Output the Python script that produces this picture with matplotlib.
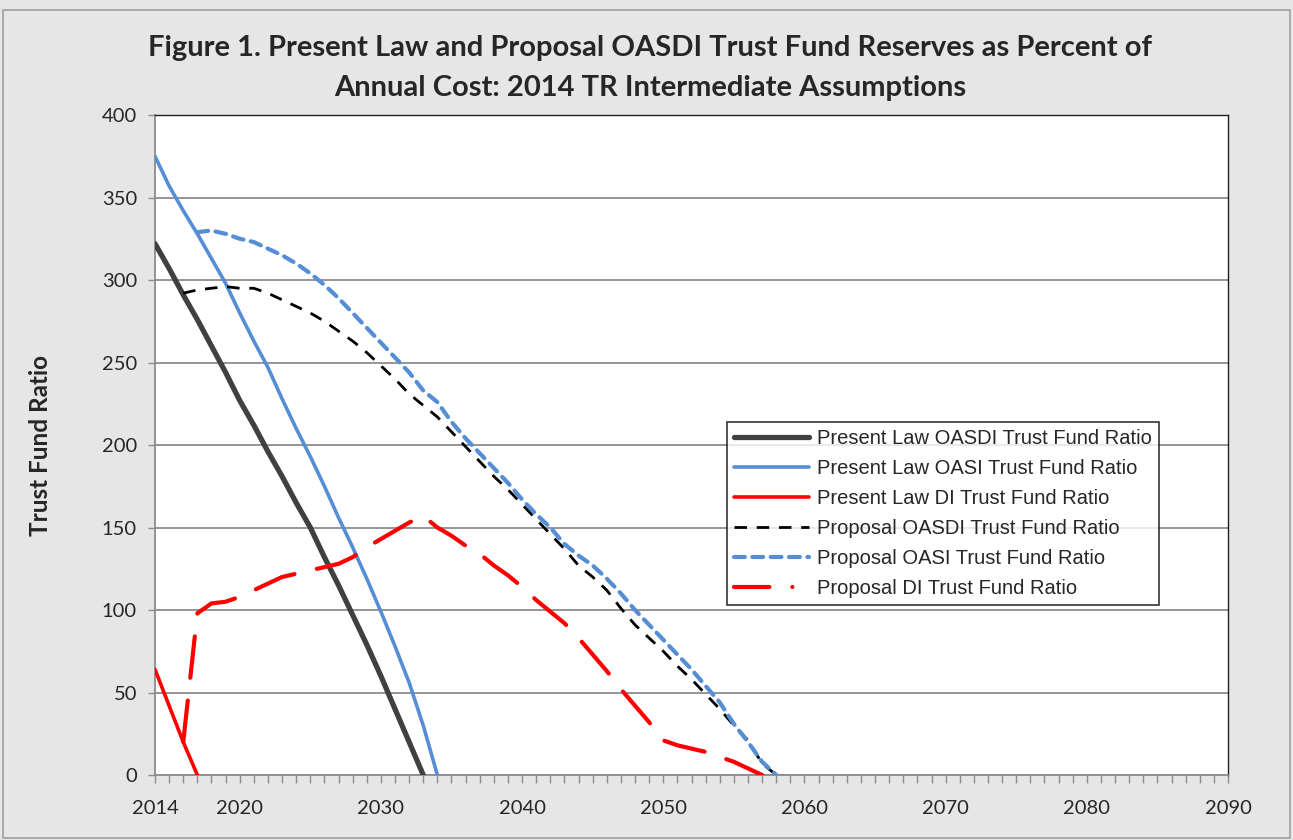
import matplotlib
matplotlib.use("Agg")
import matplotlib.pyplot as plt
from matplotlib.patches import Rectangle
from matplotlib.lines import Line2D

# --- data (trust fund ratio, percent) ---
pl_oasdi_years = list(range(2014, 2034))
pl_oasdi = [322, 307, 291, 276, 260, 244, 227, 212, 196, 181,
            165, 150, 132, 115, 97, 79, 60, 40, 20, 0]

pl_oasi_years = list(range(2014, 2035))
pl_oasi = [375, 357, 342, 328, 313, 298, 280, 263, 247, 228,
           210, 193, 175, 156, 138, 119, 99, 78, 56, 30, 0]

pl_di_years = [2014, 2015, 2016, 2017]
pl_di = [64, 42, 20, 0]

pr_oasdi_years = list(range(2016, 2059))
pr_oasdi = [292, 294, 295, 296, 295, 295, 292, 288, 284, 280,
            275, 269, 263, 256, 248, 240, 231, 224, 217, 208,
            199, 190, 181, 173, 164, 155, 146, 137, 127, 120,
            112, 101, 91, 83, 75, 66, 58, 49, 40, 30,
            21, 7, 0]

pr_oasi_years = list(range(2017, 2059))
pr_oasi = [329, 330, 328, 325, 323, 319, 315, 310, 304, 297,
           289, 280, 271, 262, 253, 244, 233, 226, 214, 204,
           195, 186, 177, 167, 158, 150, 140, 133, 127, 119,
           110, 100, 91, 82, 73, 64, 54, 44, 31, 20,
           8, 0]

pr_di_years = list(range(2016, 2058))
pr_di = [20, 98, 104, 105, 108, 112, 116, 120, 122, 124,
         126, 128, 132, 138, 143, 148, 153, 157, 150, 145,
         139, 134, 127, 121, 114, 106, 99, 92, 83, 73,
         63, 52, 42, 32, 21, 18, 16, 14, 11, 8,
         4, 0]

labels = ["Present Law OASDI Trust Fund Ratio",
          "Present Law OASI Trust Fund Ratio",
          "Present Law DI Trust Fund Ratio",
          "Proposal OASDI Trust Fund Ratio",
          "Proposal OASI Trust Fund Ratio",
          "Proposal DI Trust Fund Ratio"]

x_ticks = [2014, 2020, 2030, 2040, 2050, 2060, 2070, 2080, 2090]
y_ticks = list(range(0, 401, 50))

gray_line = "#404040"
blue = "#558ED5"
red = "#FF0000"
grid_col = "#8C8C8C"
text_col = "#262626"

fig = plt.figure(figsize=(12.93, 8.4), dpi=100)
fig.patch.set_facecolor("#E6E6E6")
fig.patches.append(Rectangle((0.002, 0.002), 0.996, 0.986, transform=fig.transFigure,
                             fill=False, edgecolor="#A0A0A0", linewidth=1.2))

ax = fig.add_axes([155 / 1293, 1 - 775 / 840, (1228 - 155) / 1293, (775 - 115) / 840])
ax.set_facecolor("white")

h1, = ax.plot(pl_oasdi_years, pl_oasdi, color=gray_line, lw=3.8, solid_capstyle="round",
              zorder=3)
h2, = ax.plot(pl_oasi_years, pl_oasi, color=blue, lw=2.6, solid_capstyle="round", zorder=3)
h3, = ax.plot(pl_di_years, pl_di, color=red, lw=2.6, solid_capstyle="round", zorder=3)
h4, = ax.plot(pr_oasdi_years, pr_oasdi, color="black", lw=2.0, dashes=(4.5, 3.5), zorder=4)
h5, = ax.plot(pr_oasi_years, pr_oasi, color=blue, lw=3.0, dashes=(2.6, 1.8),
              dash_capstyle="round", zorder=4)
ax.plot(pr_di_years, pr_di, color=red, lw=3.0, dashes=(10, 5.5),
        dash_capstyle="round", zorder=4)
# legend swatch for the DI proposal shows long dash + dot
h6 = Line2D([], [], color=red, lw=3.0, dashes=(8.5, 5.5, 0.01, 5),
            dash_capstyle="round")

ax.set_xlim(2014, 2090)
ax.set_ylim(0, 400)
ax.set_xticks(x_ticks)
ax.set_xticks(range(2014, 2091), minor=True)
ax.set_yticks(y_ticks)
ax.yaxis.grid(True, color=grid_col, lw=1.3)
ax.set_axisbelow(True)

for side in ["top", "right"]:
    ax.spines[side].set_color("#202020")
    ax.spines[side].set_linewidth(1.0)
for side in ["left", "bottom"]:
    ax.spines[side].set_color(grid_col)
    ax.spines[side].set_linewidth(1.3)

ax.tick_params(axis="x", which="both", direction="out", length=6, width=1, color=grid_col,
               pad=12)
ax.tick_params(axis="y", direction="out", length=5, width=1, color=grid_col, pad=8)
for lab in ax.get_xticklabels() + ax.get_yticklabels():
    lab.set_fontfamily("Lato")
    lab.set_fontsize(14.5)
    lab.set_color(text_col)

ax.set_ylabel("Trust Fund Ratio", fontfamily="Lato", fontweight="bold", fontsize=17.5,
              color=text_col, labelpad=36)

fig.text(0.503, 0.943, "Figure 1. Present Law and Proposal OASDI Trust Fund Reserves as Percent of",
         ha="center", va="center", fontfamily="Lato", fontweight="bold", fontsize=21,
         color=text_col)
fig.text(0.503, 0.895, "Annual Cost: 2014 TR Intermediate Assumptions",
         ha="center", va="center", fontfamily="Lato", fontweight="bold", fontsize=21,
         color=text_col)

leg = ax.legend([h1, h2, h3, h4, h5, h6], labels,
                loc="upper left", bbox_to_anchor=((727 - 155) / 1073, (775 - 422) / 660),
                prop={"family": "Liberation Sans", "size": 14.5}, frameon=True,
                fancybox=False, edgecolor="black", handlelength=3.7, handletextpad=0.4,
                labelspacing=0.55, borderpad=0.35, borderaxespad=0)
leg.get_frame().set_linewidth(1.2)
for t in leg.get_texts():
    t.set_color(text_col)

fig.savefig("out.png", dpi=100, facecolor=fig.get_facecolor())
